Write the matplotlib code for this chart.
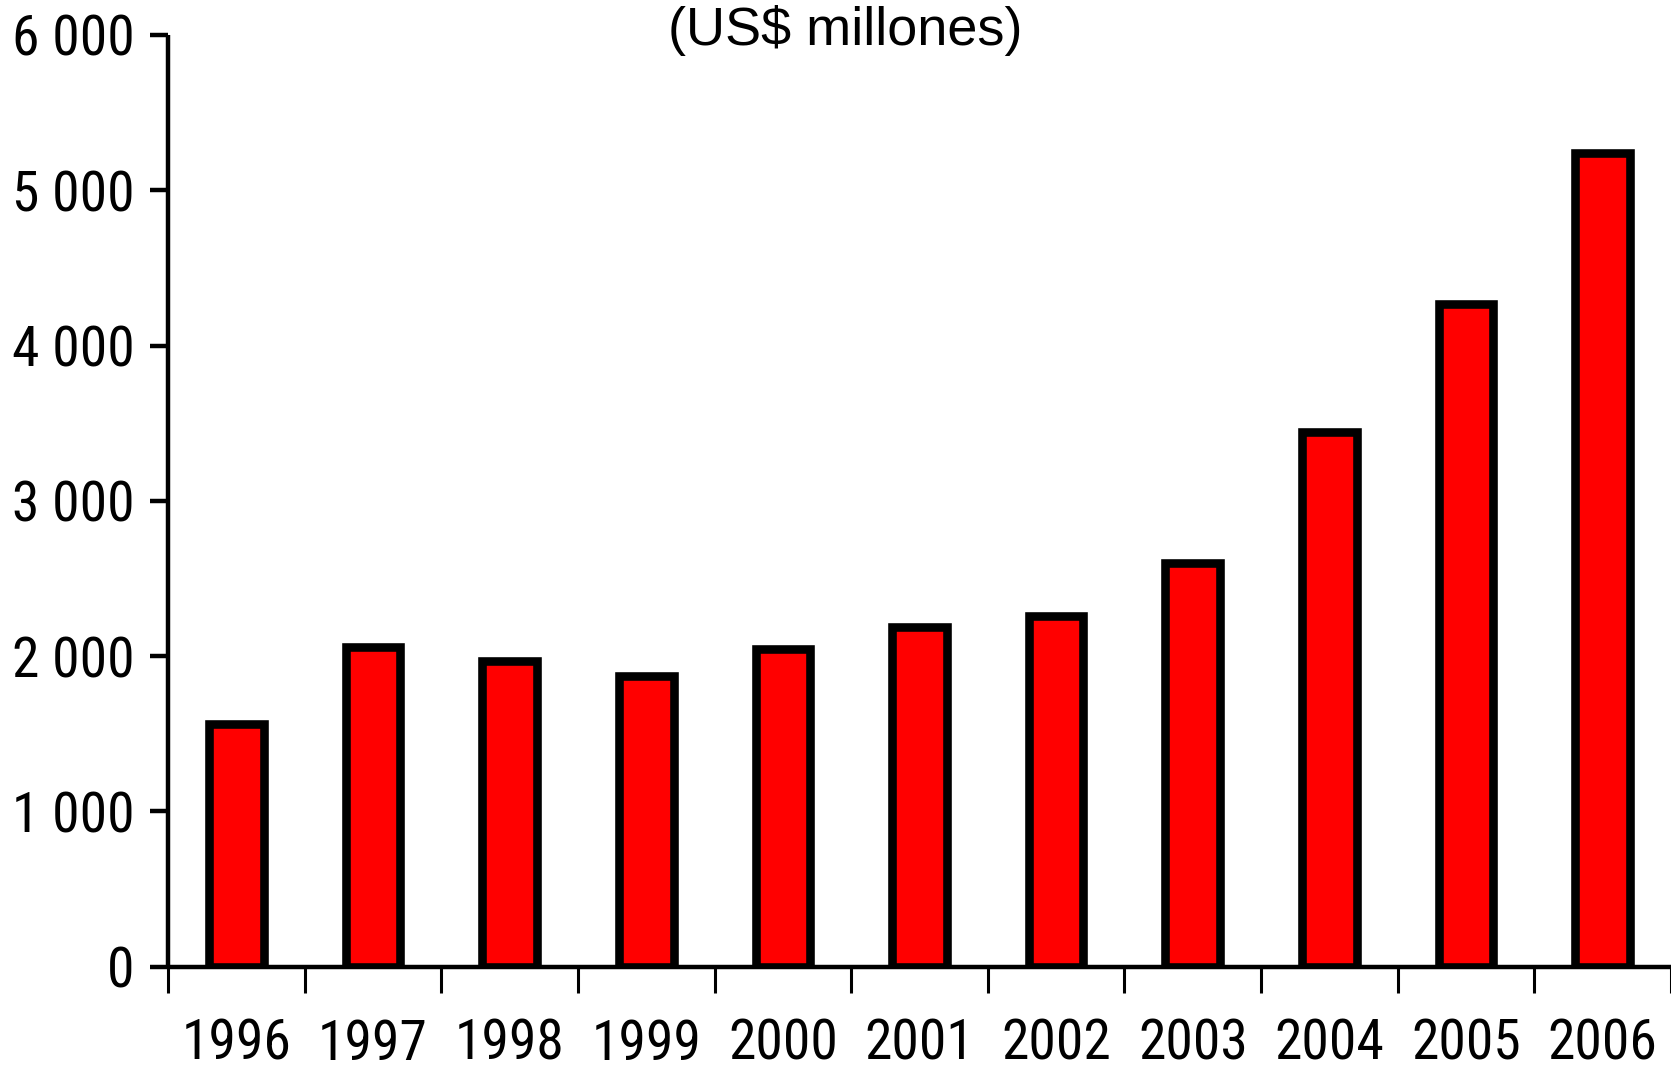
import matplotlib
matplotlib.use("Agg")
import matplotlib.pyplot as plt
from matplotlib import font_manager

years = ["1996", "1997", "1998", "1999", "2000", "2001", "2002", "2003", "2004", "2005", "2006"]
values = [1565, 2055, 1965, 1868, 2045, 2190, 2255, 2600, 3445, 4265, 5240]
yticks = [0, 1000, 2000, 3000, 4000, 5000, 6000]
ytick_labels = ["0", "1 000", "2 000", "3 000", "4 000", "5 000", "6 000"]
title = "(US$ millones)"


def pick(cands):
    for c in cands:
        try:
            font_manager.findfont(font_manager.FontProperties(family=c), fallback_to_default=False)
            return c
        except Exception:
            pass
    return "DejaVu Sans"

narrow = pick(["Liberation Sans Narrow", "Arial Narrow", "Roboto Condensed", "Archivo Narrow",
               "Barlow Semi Condensed", "Liberation Sans"])
regular = pick(["Liberation Sans", "Arial"])

W, H = 1671, 1072
fig = plt.figure(figsize=(W / 100, H / 100), dpi=100)
ax = fig.add_axes([168 / W, 1 - 966.5 / H, 1 - 168 / W, (966.5 - 35) / H])

x = list(range(len(years)))
ax.bar(x, values, width=0.40, color="#FF0000", edgecolor="black", linewidth=6.2, zorder=2)

ax.set_xlim(-0.5, len(years) - 0.5)
ax.set_ylim(0, 6000)

for s in ["top", "right"]:
    ax.spines[s].set_visible(False)
for s in ["left", "bottom"]:
    ax.spines[s].set_linewidth(3.2)
    ax.spines[s].set_zorder(3)
    ax.spines[s].set_capstyle("butt")

ax.set_yticks(yticks)
ax.set_yticklabels(ytick_labels, fontsize=40, family=narrow)
ax.tick_params(axis="y", length=13, width=3.2, pad=11, direction="out")

ax.set_xticks([i - 0.5 for i in range(len(years) + 1)])
ax.set_xticklabels([])
ax.set_xticks(x, minor=True)
ax.set_xticklabels(years, minor=True, fontsize=40, family=narrow)
ax.tick_params(axis="x", which="major", length=19, width=2.2, direction="out")
ax.tick_params(axis="x", which="minor", length=0, pad=37)

fig.text(845 / W, 1 - 30 / H, title, ha="center", va="center", fontsize=39, family=regular)

fig.savefig("out.png", dpi=100, facecolor="white")
